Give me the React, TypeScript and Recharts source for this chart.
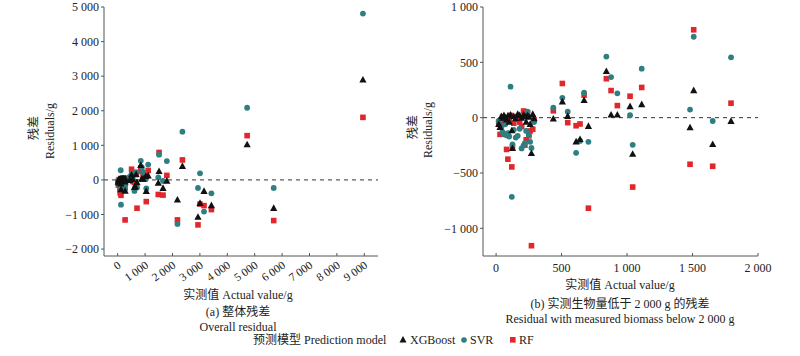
import React from 'react';
import { ScatterChart, Scatter, XAxis, YAxis, ReferenceLine } from 'recharts';

// actual biomass (g) and residuals of each model for the same samples
const actualValues = [
  20, 30, 40, 50, 60, 70, 80, 90, 100, 110, 120, 125, 135, 150, 165, 180, 195, 210, 220, 230, 240, 250, 260, 270, 280, 290,
  437, 506, 547, 611, 641, 672, 705, 842, 878, 926, 1023, 1043, 1112, 1481, 1509, 1654, 1794,
  2180, 2362, 2930, 3004, 3150, 3420, 4724, 5694, 8950,
];
const xgbResiduals = [
  -60, -87, 10, -5, 20, 0, -20, 15, -40, 25, -118, -278, 10, -10, 30, 20, -5, 25, 10, -40, 20, 5, -60, -324, 30, -10,
  -12, 143, 12, -218, -197, 155, -78, 418, 25, 25, 100, -330, 118, -91, 245, -242, -33,
  -578, 394, -1080, -676, -329, -743, 1020, -821, 2890,
];
const svrResiduals = [
  -30, -20, -90, -130, -150, -60, -160, -140, -170, 280, -715, -242, -110, -180, -164, -100, -278, -250, -230, -120, 55, -160, -218, -273, 10, -40,
  90, 179, 54, -318, -210, 227, -218, 552, 367, 220, 22, -245, 443, 73, 731, -30, 545,
  -1272, 1396, -231, 191, -916, -387, 2087, -231, 4810,
];
const rfResiduals = [
  -40, -151, -60, 5, -20, -30, -287, -375, -10, 20, -445, -270, -50, -15, 10, -40, -80, 60, -248, -200, 45, -164, -120, -1157, -105, -20,
  62, 309, -45, -73, -57, 204, -818, 352, 245, 109, 194, -627, 273, -421, 794, -439, 131,
  -1156, 578, -1300, -700, -743, -858, 1280, -1176, 1809,
];

const leftXTicks = [0, 1000, 2000, 3000, 4000, 5000, 6000, 7000, 8000, 9000];
const leftYTicks = [-2000, -1000, 0, 1000, 2000, 3000, 4000, 5000];
const rightXTicks = [0, 500, 1000, 1500, 2000];
const rightYTicks = [-1000, -500, 0, 500, 1000];

const FONT = "'Liberation Serif', 'Times New Roman', 'Noto Sans CJK SC', serif";
const TEXT = '#222';
const AXIS = '#555';
const TEAL = '#2E7F82';
const RED = '#E2262B';

const fmt = (v: number) => {
  const s = Math.abs(v).toString().replace(/\B(?=(\d{3})+(?!\d))/g, ' ');
  return v < 0 ? '\u2212' + s : s;
};

const series = (res: number[], maxX: number) =>
  actualValues.map((x, i) => ({ x, y: res[i] })).filter(d => d.x <= maxX);

const Tri = (p: any) => (
  <polygon points={`${p.cx},${p.cy - 4} ${p.cx - 3.6},${p.cy + 2.6} ${p.cx + 3.6},${p.cy + 2.6}`} fill="#111" />
);
const Dot = (p: any) => <circle cx={p.cx} cy={p.cy} r={2.9} fill={TEAL} />;
const Box = (p: any) => <rect x={p.cx - 2.8} y={p.cy - 2.8} width={5.6} height={5.6} fill={RED} />;

const XTick = (rotated: boolean) => (props: any) => {
  const { x, y, payload } = props;
  return (
    <g>
      <line x1={x} y1={y} x2={x} y2={y - 3} stroke={AXIS} />
      {rotated ? (
        <text
          x={x + 4}
          y={y + 11}
          textAnchor="end"
          transform={`rotate(-35 ${x + 4} ${y + 11})`}
          fontSize={11.5}
          fontFamily={FONT}
          fill={TEXT}
        >
          {fmt(payload.value)}
        </text>
      ) : (
        <text x={x} y={y + 16} textAnchor="middle" fontSize={12} fontFamily={FONT} fill={TEXT}>
          {fmt(payload.value)}
        </text>
      )}
    </g>
  );
};

interface PanelProps {
  maxX: number;
  xDomain: [number, number];
  yDomain: [number, number];
  xTicks: number[];
  yTicks: number[];
  yAxisWidth: number;
  marginRight: number;
  rotated: boolean;
}

const Panel: React.FC<PanelProps> = ({ maxX, xDomain, yDomain, xTicks, yTicks, yAxisWidth, marginRight, rotated }) => (
  <ScatterChart width={400} height={356} margin={{ top: 7, right: marginRight, bottom: 60, left: 0 }}>
    <XAxis
      type="number"
      dataKey="x"
      domain={xDomain}
      ticks={xTicks}
      interval={0}
      height={40}
      tickSize={0}
      tickMargin={0}
      tickLine={false}
      stroke={AXIS}
      tick={XTick(rotated)}
    />
    <YAxis
      type="number"
      dataKey="y"
      domain={yDomain}
      ticks={yTicks}
      interval={0}
      width={yAxisWidth}
      tickSize={3}
      tickMargin={2}
      stroke={AXIS}
      tickFormatter={fmt}
      tick={{ fontSize: 12, fill: TEXT, fontFamily: FONT }}
    />
    <ReferenceLine y={0} stroke="#333" strokeDasharray="4 4" />
    <Scatter data={series(rfResiduals, maxX)} shape={Box} isAnimationActive={false} />
    <Scatter data={series(svrResiduals, maxX)} shape={Dot} isAnimationActive={false} />
    <Scatter data={series(xgbResiduals, maxX)} shape={Tri} isAnimationActive={false} />
  </ScatterChart>
);

const T = (p: { x: number; y: number; children: React.ReactNode; rot?: boolean; anchor?: string; size?: number }) => (
  <text
    x={p.x}
    y={p.y}
    textAnchor={p.anchor || 'middle'}
    dominantBaseline="central"
    fontSize={p.size || 12}
    fontFamily={FONT}
    fill={TEXT}
    transform={p.rot ? `rotate(-90 ${p.x} ${p.y})` : undefined}
  >
    {p.children}
  </text>
);

export default function App() {
  return (
    <div style={{ position: 'absolute', left: 0, top: 0, width: 800, height: 356, background: '#fff' }}>
      <div style={{ position: 'absolute', left: 0, top: 0 }}>
        <Panel
          maxX={100000}
          xDomain={[-500, 9500]}
          yDomain={[-2200, 5000]}
          xTicks={leftXTicks}
          yTicks={leftYTicks}
          yAxisWidth={104}
          marginRight={22}
          rotated
        />
      </div>
      <div style={{ position: 'absolute', left: 400, top: 0 }}>
        <Panel
          maxX={2000}
          xDomain={[-100, 2000]}
          yDomain={[-1250, 1000]}
          xTicks={rightXTicks}
          yTicks={rightYTicks}
          yAxisWidth={83}
          marginRight={42}
          rotated={false}
        />
      </div>
      <svg width={800} height={356} style={{ position: 'absolute', left: 0, top: 0, pointerEvents: 'none' }}>
        <T x={34} y={128} rot>残差</T>
        <T x={50} y={131} rot>Residuals/g</T>
        <T x={413} y={127} rot>残差</T>
        <T x={428} y={130} rot>Residuals/g</T>

        <T x={238} y={295}>实测值 Actual value/g</T>
        <T x={238} y={312}>(a) 整体残差</T>
        <T x={238} y={327}>Overall residual</T>

        <T x={620} y={285}>实测值 Actual value/g</T>
        <T x={620} y={304}>(b) 实测生物量低于 2 000 g 的残差</T>
        <T x={620} y={319}>Residual with measured biomass below 2 000 g</T>

        <T x={253} y={340} anchor="start">预测模型 Prediction model</T>
        <polygon points="403,336 399.5,342.5 406.5,342.5" fill="#111" />
        <T x={410} y={340} anchor="start">XGBoost</T>
        <circle cx={464} cy={340} r={2.8} fill={TEAL} />
        <T x={470} y={340} anchor="start">SVR</T>
        <rect x={510} y={337} width={5.6} height={5.6} fill={RED} />
        <T x={519} y={340} anchor="start">RF</T>
      </svg>
    </div>
  );
}
